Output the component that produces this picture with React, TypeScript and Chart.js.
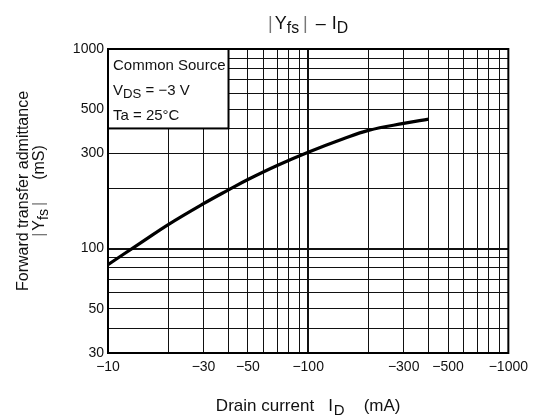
import React, { useEffect, useRef } from 'react';
import { Chart, registerables } from 'chart.js';

Chart.register(...registerables);

// ---- data ----
const drainCurrent = [10, 12, 15, 20, 30, 40, 50, 70, 100, 150, 200, 300, 400]; // |ID| mA
const yfsValues = [83, 94, 109, 132, 168, 197, 222, 261, 304, 355, 391, 424, 445]; // |Yfs| mS

const xGridValues = [10, 20, 30, 40, 50, 60, 70, 80, 90, 100, 200, 300, 400, 500, 600, 700, 800, 900, 1000];
const xLabelValues = [10, 30, 50, 100, 300, 500, 1000];
const yGridValues = [30, 40, 50, 60, 70, 80, 90, 100, 200, 300, 400, 500, 600, 700, 800, 900, 1000];
const yLabelValues = [30, 50, 100, 300, 500, 1000];

// legend box spans up to these data values
const boxRightX = 40;
const boxBottomY = 400;

const FONT = '"Liberation Sans", Arial, Helvetica, sans-serif';

type Seg = { t: string; sub?: boolean; color?: string; gap?: number };

function segFont(size: number, sub?: boolean) {
  return `${sub ? size * 0.88 : size}px ${FONT}`;
}

function drawRich(ctx: CanvasRenderingContext2D, segs: Seg[], x: number, y: number, size: number, align: 'left' | 'center') {
  let total = 0;
  const widths = segs.map((s) => {
    ctx.font = segFont(size, s.sub);
    const w = ctx.measureText(s.t).width + (s.gap || 0);
    total += w;
    return w;
  });
  let cx = align === 'center' ? x - total / 2 : x;
  ctx.textAlign = 'left';
  ctx.textBaseline = 'alphabetic';
  segs.forEach((s, i) => {
    ctx.font = segFont(size, s.sub);
    ctx.fillStyle = s.color || '#111';
    ctx.fillText(s.t, cx + (s.gap || 0), y + (s.sub ? size * 0.22 : 0));
    cx += widths[i];
  });
}

const BAR = '#777';

const overlayPlugin = {
  id: 'overlayTexts',
  afterDraw(chart: any) {
    const { ctx, chartArea: a, scales } = chart;
    const xs = scales.x;
    const ys = scales.y;
    ctx.save();

    // legend box
    const bx = xs.getPixelForValue(boxRightX);
    const by = ys.getPixelForValue(boxBottomY);
    ctx.fillStyle = '#fff';
    ctx.fillRect(a.left, a.top, bx - a.left, by - a.top);
    ctx.lineWidth = 2;
    ctx.strokeStyle = '#000';
    ctx.strokeRect(a.left, a.top, bx - a.left, by - a.top);

    // plot frame
    ctx.strokeRect(a.left, a.top, a.right - a.left, a.bottom - a.top);

    // legend texts
    const lx = a.left + 5;
    drawRich(ctx, [{ t: 'Common Source' }], lx, a.top + 21, 15, 'left');
    drawRich(ctx, [{ t: 'V' }, { t: 'DS', sub: true }, { t: ' = \u22123 V' }], lx, a.top + 46, 15, 'left');
    drawRich(ctx, [{ t: 'Ta = 25\u00B0C' }], lx, a.top + 71, 15, 'left');

    const cx = (a.left + a.right) / 2;

    // title
    drawRich(
      ctx,
      [
        { t: '|', color: BAR },
        { t: 'Y', gap: 2 },
        { t: 'fs', sub: true },
        { t: '|', color: BAR, gap: 4 },
        { t: '\u2013', gap: 8 },
        { t: 'I', gap: 6 },
        { t: 'D', sub: true },
      ],
      cx,
      29,
      18,
      'center'
    );

    // x-axis title
    drawRich(
      ctx,
      [
        { t: 'Drain current' },
        { t: 'I', gap: 14 },
        { t: 'D', sub: true, gap: 1 },
        { t: '(mA)', gap: 19 },
      ],
      cx,
      411,
      17,
      'center'
    );

    // y-axis title (rotated)
    const cy = 191;
    ctx.save();
    ctx.translate(28, cy);
    ctx.rotate(-Math.PI / 2);
    drawRich(ctx, [{ t: 'Forward transfer admittance' }], 0, 0, 16, 'center');
    ctx.restore();
    ctx.save();
    ctx.translate(44, cy);
    ctx.rotate(-Math.PI / 2);
    drawRich(
      ctx,
      [
        { t: '|', color: BAR },
        { t: 'Y', gap: 2 },
        { t: 'fs', sub: true },
        { t: '|', color: BAR, gap: 3 },
        { t: '(mS)', gap: 22 },
      ],
      0,
      0,
      16,
      'center'
    );
    ctx.restore();

    ctx.restore();
  },
};

export default function App() {
  const ref = useRef<HTMLCanvasElement | null>(null);

  useEffect(() => {
    if (!ref.current) return;
    const points = drainCurrent.map((x, i) => ({ x, y: yfsValues[i] }));
    const chart = new Chart(ref.current, {
      type: 'line',
      data: {
        datasets: [
          {
            data: points,
            borderColor: '#000',
            borderWidth: 3.2,
            pointRadius: 0,
            tension: 0.4,
            fill: false,
          },
        ],
      },
      options: {
        animation: false,
        responsive: false,
        maintainAspectRatio: false,
        layout: { padding: { left: 0, top: 49, right: 24, bottom: 0 } },
        plugins: {
          legend: { display: false },
          title: { display: false },
          tooltip: { enabled: false },
        },
        scales: {
          x: {
            type: 'logarithmic',
            min: 10,
            max: 1000,
            afterBuildTicks: (scale: any) => {
              scale.ticks = xGridValues.map((v) => ({ value: v }));
            },
            afterFit: (scale: any) => {
              scale.height = 64;
            },
            ticks: {
              autoSkip: false,
              maxRotation: 0,
              minRotation: 0,
              padding: 6,
              color: '#111',
              font: { family: FONT, size: 14 },
              callback: (value: any) => (xLabelValues.includes(Number(value)) ? '\u2212' + value : ''),
            },
            grid: {
              drawTicks: false,
              color: '#111',
              lineWidth: (c: any) => (c.tick && c.tick.value === 100 ? 2 : 1),
            },
            border: { display: false },
          },
          y: {
            type: 'logarithmic',
            min: 30,
            max: 1000,
            afterBuildTicks: (scale: any) => {
              scale.ticks = yGridValues.map((v) => ({ value: v }));
            },
            afterFit: (scale: any) => {
              scale.width = 108;
            },
            ticks: {
              autoSkip: false,
              padding: 4,
              color: '#111',
              font: { family: FONT, size: 14 },
              callback: (value: any) => (yLabelValues.includes(Number(value)) ? String(value) : ''),
            },
            grid: {
              drawTicks: false,
              color: '#111',
              lineWidth: (c: any) => (c.tick && c.tick.value === 100 ? 2 : 1),
            },
            border: { display: false },
          },
        },
      },
      plugins: [overlayPlugin],
    });
    return () => chart.destroy();
  }, []);

  return (
    <div style={{ position: 'absolute', left: 0, top: 0, width: 534, height: 417, background: '#fff' }}>
      <canvas ref={ref} width={534} height={417} style={{ display: 'block', width: 534, height: 417 }} />
    </div>
  );
}
